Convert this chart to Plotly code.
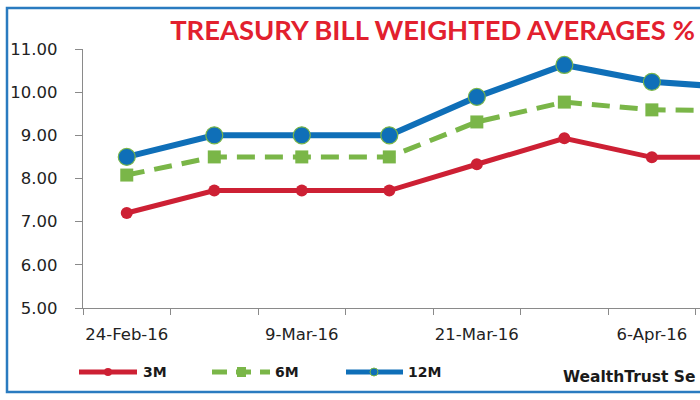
import plotly.graph_objects as go

# ---- data ----
dates = ["24-Feb-16", "2-Mar-16", "9-Mar-16", "16-Mar-16",
         "21-Mar-16", "30-Mar-16", "6-Apr-16", "13-Apr-16"]
m3 = [7.20, 7.72, 7.72, 7.72, 8.33, 8.93, 8.49, 8.49]
m6 = [8.08, 8.50, 8.50, 8.50, 9.31, 9.77, 9.59, 9.57]
m12 = [8.50, 9.00, 9.00, 9.00, 9.89, 10.63, 10.24, 10.10]
y_ticks = [5, 6, 7, 8, 9, 10, 11]
series_names = ["3M", "6M", "12M"]

RED = "#cd2034"
GREEN = "#7ab648"
BLUE = "#0f6fb8"
FRAME = "#2a7bc0"

W, H = 700, 400
ML, MR, MT, MB = 83, 0, 49, 92
PW, PH = W - ML - MR, H - MT - MB


def px(x):
    return (x - ML) / PW


def py(y):
    return (H - MB - y) / PH


idx = list(range(len(dates)))

fig = go.Figure()
fig.add_trace(go.Scatter(x=idx, y=m3, name=series_names[0], mode="lines+markers",
                         line=dict(color=RED, width=5),
                         marker=dict(symbol="circle", size=12, color=RED)))
fig.add_trace(go.Scatter(x=idx, y=m6, name=series_names[1], mode="lines+markers",
                         line=dict(color=GREEN, width=5, dash="18px,10px"),
                         marker=dict(symbol="square", size=13, color=GREEN)))
fig.add_trace(go.Scatter(x=idx, y=m12, name=series_names[2], mode="lines+markers",
                         line=dict(color=BLUE, width=6),
                         marker=dict(symbol="circle", size=17, color=BLUE,
                                     line=dict(color=GREEN, width=1.2))))

tick_font = dict(family="DejaVu Sans", size=16.5, color="#222222")

fig.update_layout(
    width=W, height=H,
    margin=dict(l=ML, r=MR, t=MT, b=MB),
    paper_bgcolor="white", plot_bgcolor="white",
    showlegend=False,
    title=dict(text="<b>TREASURY BILL WEIGHTED AVERAGES %</b>",
               font=dict(family="Lato", size=27.4, color="#e2202e"),
               x=695 / W, xanchor="right", xref="container",
               y=1 - 30 / H, yanchor="middle", yref="container"),
    xaxis=dict(range=[-0.5, 6.55], tickmode="array",
               tickvals=idx[0::2], ticktext=dates[0::2],
               ticks="", showgrid=False, zeroline=False,
               showline=True, linecolor="#8a8a8a", linewidth=1.2,
               tickfont=tick_font, ticklabelstandoff=11,
               minor=dict(tickmode="array",
                          tickvals=[i - 0.5 for i in range(len(dates) + 1)],
                          ticks="outside", ticklen=6, tickwidth=1.2,
                          tickcolor="#8a8a8a", showgrid=False)),
    yaxis=dict(range=[5, 11], tickmode="array", tickvals=y_ticks,
               ticktext=[f"{v:.2f}" for v in y_ticks],
               ticks="outside", ticklen=7, tickwidth=1.2, tickcolor="#8a8a8a",
               showgrid=False, zeroline=False,
               showline=True, linecolor="#8a8a8a", linewidth=1.2,
               tickfont=tick_font, ticklabelstandoff=14),
)

# frame
fig.add_shape(type="rect", xref="paper", yref="paper",
              x0=px(7), x1=px(760), y0=py(392), y1=py(8),
              line=dict(color=FRAME, width=2.5), fillcolor="rgba(0,0,0,0)")

# custom legend
ly = py(372)
leg_font = dict(family="DejaVu Sans", size=14, color="#1a1a1a")
# 3M
fig.add_shape(type="line", xref="paper", yref="paper", x0=px(79), x1=px(137), y0=ly, y1=ly,
              line=dict(color=RED, width=5))
fig.add_shape(type="circle", xref="paper", yref="paper", x0=px(104), x1=px(112),
              y0=py(376), y1=py(368), line=dict(color=RED, width=0), fillcolor=RED)
fig.add_annotation(x=px(141), y=ly, xref="paper", yref="paper", text="<b>3M</b>",
                   showarrow=False, xanchor="left", yanchor="middle", font=leg_font)
# 6M
fig.add_shape(type="line", xref="paper", yref="paper", x0=px(212), x1=px(270), y0=ly, y1=ly,
              line=dict(color=GREEN, width=5, dash="15px,9px"))
fig.add_shape(type="rect", xref="paper", yref="paper", x0=px(237), x1=px(246),
              y0=py(377), y1=py(367), line=dict(color=GREEN, width=0), fillcolor=GREEN)
fig.add_annotation(x=px(273), y=ly, xref="paper", yref="paper", text="<b>6M</b>",
                   showarrow=False, xanchor="left", yanchor="middle", font=leg_font)
# 12M
fig.add_shape(type="line", xref="paper", yref="paper", x0=px(346), x1=px(403), y0=ly, y1=ly,
              line=dict(color=BLUE, width=5))
fig.add_shape(type="circle", xref="paper", yref="paper", x0=px(370), x1=px(378),
              y0=py(376), y1=py(368), line=dict(color=GREEN, width=1), fillcolor=BLUE)
fig.add_annotation(x=px(406), y=ly, xref="paper", yref="paper", text="<b>12M</b>",
                   showarrow=False, xanchor="left", yanchor="middle", font=leg_font)

# footer (as visible in the reference)
fig.add_annotation(x=px(698), y=py(377), xref="paper", yref="paper",
                   text="<b>WealthTrust Se</b>", showarrow=False,
                   xanchor="right", yanchor="middle",
                   font=dict(family="DejaVu Sans", size=15.5, color="#1a1a1a"))

fig.write_html("out.html")
